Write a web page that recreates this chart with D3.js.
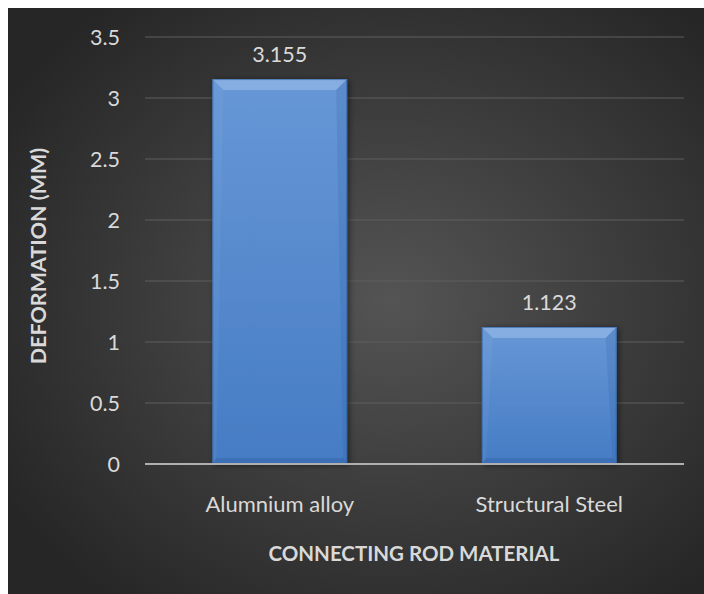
<!DOCTYPE html>
<html><head><meta charset="utf-8">
<script src="https://cdn.jsdelivr.net/npm/d3@7"></script>
<style>html,body{margin:0;padding:0;background:#fff;}svg{display:block;}</style>
</head><body>
<script>
const categories = ["Alumnium alloy", "Structural Steel"];
const values = [3.155, 1.123];
const valueLabels = ["3.155", "1.123"];
const yTicks = [0, 0.5, 1, 1.5, 2, 2.5, 3, 3.5];
const yTickLabels = ["0", "0.5", "1", "1.5", "2", "2.5", "3", "3.5"];
const xTitle = "CONNECTING ROD MATERIAL";
const yTitle = "DEFORMATION (MM)";

const W = 704, H = 594;
const font = "Lato, 'Open Sans', sans-serif";
const svg = d3.select("body").append("svg").attr("width", W).attr("height", H);
const defs = svg.append("defs");

const bg = defs.append("radialGradient").attr("id", "bg")
  .attr("cx", "55%").attr("cy", "50%").attr("r", "65%");
bg.append("stop").attr("offset", "0%").attr("stop-color", "#545454");
bg.append("stop").attr("offset", "100%").attr("stop-color", "#262626");

const bar = defs.append("linearGradient").attr("id", "bar").attr("x1", 0).attr("y1", 0).attr("x2", 0).attr("y2", 1);
bar.append("stop").attr("offset", "0%").attr("stop-color", "#6797d6");
bar.append("stop").attr("offset", "100%").attr("stop-color", "#457cc4");

const sh = defs.append("filter").attr("id", "sh").attr("x", "-10%").attr("y", "-10%").attr("width", "130%").attr("height", "130%");
sh.append("feDropShadow").attr("dx", 2).attr("dy", 1).attr("stdDeviation", 3).attr("flood-color", "#000").attr("flood-opacity", 0.5);

svg.append("rect").attr("x", 8).attr("y", 8).attr("width", W - 8).attr("height", H - 8).attr("fill", "url(#bg)");

const plot = {left: 145, right: 684, top: 37, bottom: 464};
const x = d3.scaleBand().domain(categories).range([plot.left, plot.right]).paddingInner(0.5).paddingOuter(0.25);
const y = d3.scaleLinear().domain([0, 3.5]).range([plot.bottom, plot.top]);

// gridlines
svg.append("g").selectAll("line").data(yTicks.filter(d => d > 0)).join("line")
  .attr("x1", plot.left).attr("x2", plot.right)
  .attr("y1", d => y(d)).attr("y2", d => y(d))
  .attr("stroke", "#5e5e5e").attr("stroke-width", 1);

// y tick labels
svg.append("g").selectAll("text").data(yTicks).join("text")
  .attr("x", 120).attr("y", d => y(d)).attr("dy", "0.36em")
  .attr("text-anchor", "end").attr("fill", "#d9d9d9")
  .attr("font-family", font).attr("font-size", 21.5)
  .text((d, i) => yTickLabels[i]);

// bars
const bars = svg.append("g").selectAll("g").data(values).join("g");
bars.append("rect")
  .attr("x", (d, i) => x(categories[i])).attr("width", x.bandwidth())
  .attr("y", d => y(d)).attr("height", d => y(0) - y(d))
  .attr("fill", "url(#bar)").attr("filter", "url(#sh)");
const bv = 11, sb = 4;
// top bevel highlight
bars.append("path").attr("d", (d, i) => {
  const x0 = x(categories[i]), x1 = x0 + x.bandwidth(), t = y(d);
  return `M${x0},${t}L${x1},${t}L${x1 - bv},${t + bv}L${x0 + bv},${t + bv}Z`;
}).attr("fill", "#a6c6f0").attr("opacity", 0.5);
// left bevel
bars.append("path").attr("d", (d, i) => {
  const x0 = x(categories[i]), t = y(d), b = y(0);
  return `M${x0},${t}L${x0 + bv},${t + bv}L${x0 + sb},${b - sb}L${x0},${b}Z`;
}).attr("fill", "#8fb4e6").attr("opacity", 0.12);
// right bevel
bars.append("path").attr("d", (d, i) => {
  const x1 = x(categories[i]) + x.bandwidth(), t = y(d), b = y(0);
  return `M${x1},${t}L${x1 - bv},${t + bv}L${x1 - sb},${b - sb}L${x1},${b}Z`;
}).attr("fill", "#2a5a9a").attr("opacity", 0.18);
// bottom bevel
bars.append("path").attr("d", (d, i) => {
  const x0 = x(categories[i]), x1 = x0 + x.bandwidth(), b = y(0);
  return `M${x0},${b}L${x1},${b}L${x1 - sb},${b - 6}L${x0 + sb},${b - 6}Z`;
}).attr("fill", "#2a5a9a").attr("opacity", 0.35);
// edge outline
bars.append("rect")
  .attr("x", (d, i) => x(categories[i]) + 0.5).attr("width", x.bandwidth() - 1)
  .attr("y", d => y(d) + 0.5).attr("height", d => y(0) - y(d) - 1)
  .attr("fill", "none").attr("stroke", "#2f5f9e").attr("stroke-opacity", 0.6);

// value labels
svg.append("g").selectAll("text").data(values).join("text")
  .attr("x", (d, i) => x(categories[i]) + x.bandwidth() / 2)
  .attr("y", d => y(d) - 17)
  .attr("text-anchor", "middle").attr("fill", "#d9d9d9")
  .attr("font-family", font).attr("font-size", 21.5)
  .text((d, i) => valueLabels[i]);

// x axis line
svg.append("line").attr("x1", plot.left).attr("x2", plot.right)
  .attr("y1", y(0)).attr("y2", y(0)).attr("stroke", "#b0b0b0").attr("stroke-width", 2);

// category labels
svg.append("g").selectAll("text").data(categories).join("text")
  .attr("x", d => x(d) + x.bandwidth() / 2).attr("y", 512)
  .attr("text-anchor", "middle").attr("fill", "#d9d9d9")
  .attr("font-family", font).attr("font-size", 22)
  .text(d => d);

// axis titles
svg.append("text").attr("x", 414).attr("y", 561)
  .attr("text-anchor", "middle").attr("fill", "#d9d9d9")
  .attr("font-family", font).attr("font-size", 20.5).attr("font-weight", "bold")
  .text(xTitle);
svg.append("text").attr("transform", "translate(46,256) rotate(-90)")
  .attr("text-anchor", "middle").attr("fill", "#d9d9d9")
  .attr("font-family", font).attr("font-size", 21.5).attr("font-weight", "bold")
  .text(yTitle);
</script>
</body></html>
